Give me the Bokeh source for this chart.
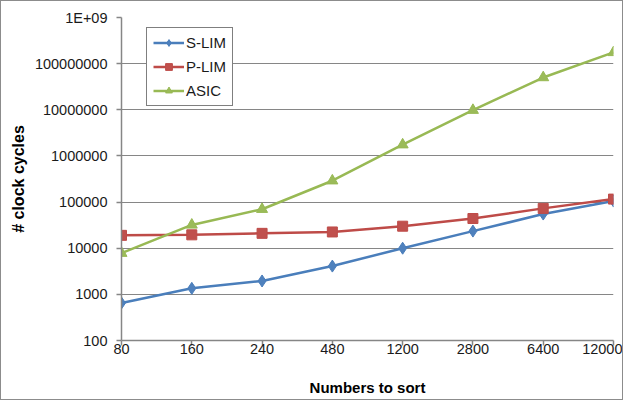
from bokeh.plotting import figure
from bokeh.models import Range1d, FixedTicker, CustomJSTickFormatter, Legend, LegendItem
from bokeh.embed import file_html
from bokeh.resources import INLINE

categories = ["80", "160", "240", "480", "1200", "2800", "6400", "12000"]
s_lim = [650, 1350, 1950, 4100, 10000, 23500, 55000, 105000]
p_lim = [19000, 19500, 21000, 22500, 30000, 44000, 73000, 116000]
asic = [7800, 32000, 70000, 290000, 1750000, 9800000, 50000000, 175000000]
y_ticks = [100, 1000, 10000, 100000, 1000000, 10000000, 100000000, 1000000000]

xs = list(range(len(categories)))

p = figure(width=623, height=400, output_backend="svg", toolbar_location=None,
           y_axis_type="log", x_range=Range1d(0, len(categories) - 1),
           y_range=Range1d(100, 1e9),
           min_border_left=120, min_border_right=11, min_border_top=16, min_border_bottom=61)
p.styles = {"border": "1px solid #8c8c8c", "box-sizing": "border-box"}
p.outline_line_color = None
p.background_fill_color = "white"
p.border_fill_color = "white"

FONT = "Liberation Sans"
GRAY = "#868686"

p.xgrid.grid_line_color = None
p.ygrid.grid_line_color = GRAY
p.ygrid.grid_line_width = 1

p.xaxis.ticker = FixedTicker(ticks=xs)
p.xaxis.major_label_overrides = {i: c for i, c in enumerate(categories)}
p.yaxis.ticker = FixedTicker(ticks=y_ticks)
p.yaxis.formatter = CustomJSTickFormatter(code="return tick >= 1e9 ? '1E+09' : tick.toFixed(0);")

for ax in (p.xaxis[0], p.yaxis[0]):
    ax.axis_line_color = GRAY
    ax.axis_line_width = 1.5
    ax.major_tick_line_color = GRAY
    ax.major_tick_line_width = 1.5
    ax.major_tick_in = 0
    ax.major_tick_out = 5
    ax.minor_tick_line_color = None
    ax.major_label_text_font = FONT
    ax.major_label_text_font_size = "14.5px"
    ax.major_label_text_color = "#1a1a1a"
    ax.axis_label_text_font = FONT
    ax.axis_label_text_font_style = "bold"
    ax.axis_label_text_color = "#000000"

p.xaxis.axis_label = "Numbers to sort"
p.yaxis.axis_label = "# clock cycles"
p.xaxis.axis_label_text_font_size = "15px"
p.yaxis.axis_label_text_font_size = "16px"
p.xaxis.major_label_standoff = -2
p.yaxis.major_label_standoff = 9
p.xaxis.axis_label_standoff = 22
p.yaxis.axis_label_standoff = 5

c_blue, c_red, c_green = "#4A7EBB", "#BE4B48", "#98B954"

l1 = p.line(xs, s_lim, line_color=c_blue, line_width=2.5)
m1 = p.scatter(xs, s_lim, marker="diamond", size=12, fill_color="#4F81BD", line_color="#4A7EBB")
l2 = p.line(xs, p_lim, line_color=c_red, line_width=2.5)
m2 = p.scatter(xs, p_lim, marker="square", size=10, fill_color="#C0504D", line_color="#BE4B48")
l3 = p.line(xs, asic, line_color=c_green, line_width=2.5)
m3 = p.scatter(xs, asic, marker="triangle", size=11, fill_color="#9BBB59", line_color="#98B954")

legend = Legend(items=[LegendItem(label="S-LIM", renderers=[l1, m1]),
                       LegendItem(label="P-LIM", renderers=[l2, m2]),
                       LegendItem(label="ASIC", renderers=[l3, m3])],
                location=(25, 234))
legend.border_line_color = "black"
legend.border_line_width = 1
legend.background_fill_alpha = 1
legend.label_text_font = FONT
legend.label_text_font_size = "15px"
legend.label_text_color = "#1a1a1a"
legend.glyph_width = 31
legend.glyph_height = 17
legend.label_height = 17
legend.label_standoff = 2
legend.spacing = 7
legend.padding = 6
legend.margin = 0
p.add_layout(legend)

open("out.html", "w").write(file_html(p, INLINE))
